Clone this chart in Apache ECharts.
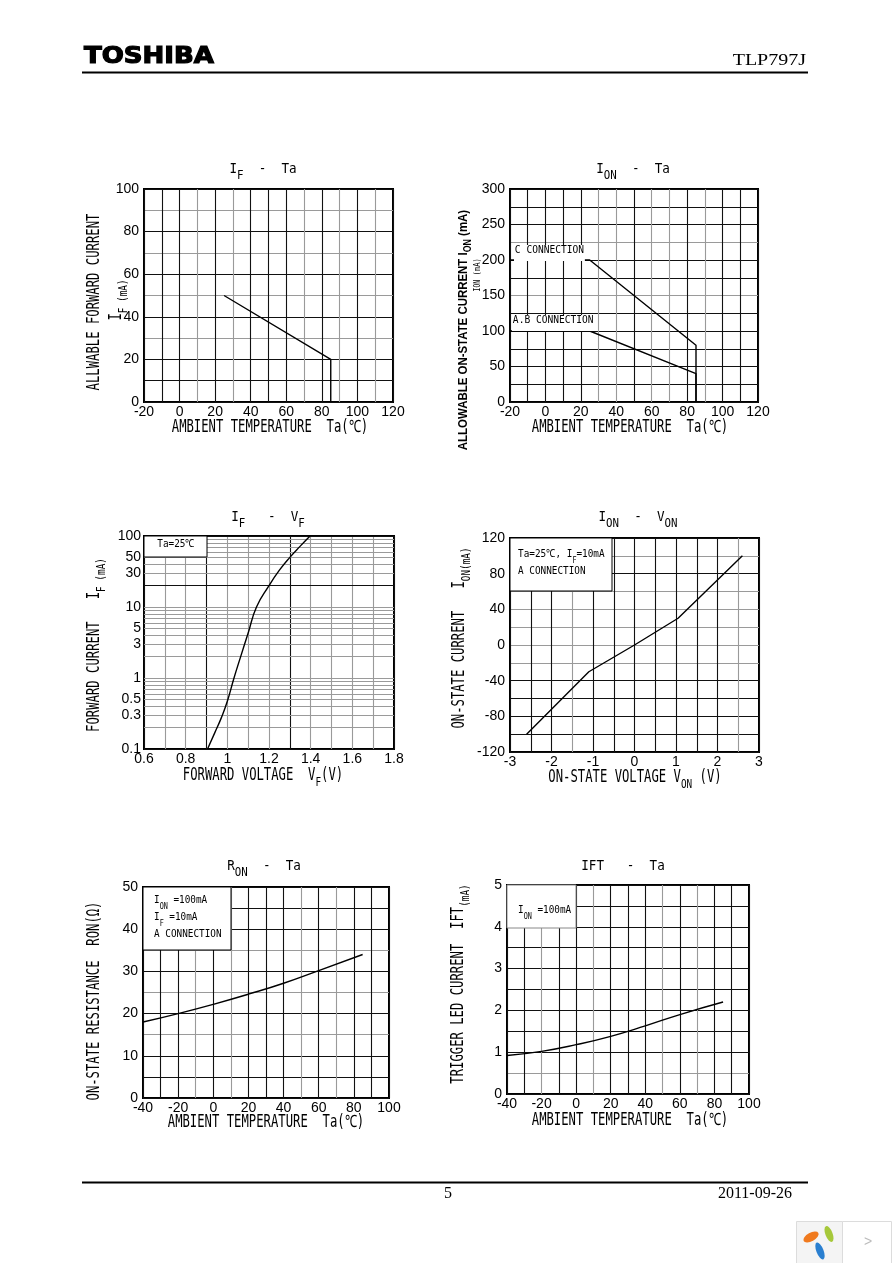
<!DOCTYPE html>
<html><head><meta charset="utf-8">
<script src="https://cdn.jsdelivr.net/npm/echarts@6/dist/echarts.min.js"></script>
<style>html,body{margin:0;padding:0;background:#fff}#c{width:892px;height:1263px}</style>
</head><body><div id="c"></div>
<script>
// ---------- DATA ----------
// 1) IF - Ta
const ifTaTemp = [25, 85, 85];
const ifTaCurrent = [50, 20, 0];
// 2) ION - Ta
const ionTaTemp = [-20, 25, 85, 85];
const ionTaC = [200, 200, 80, 0];
const ionTaAB = [100, 100, 40, 0];
// 3) IF - VF (log axis)
const ifVfVolt = [0.905, 0.94, 0.97, 1.0, 1.032, 1.064, 1.10, 1.14, 1.2, 1.25, 1.3, 1.35, 1.397];
const ifVfCurrent = [0.1, 0.17, 0.27, 0.47, 1.0, 2.0, 4.3, 10, 20, 33, 50, 72, 100];
const ifVfGridValues = [0.1,0.2,0.3,0.4,0.5,0.6,0.7,0.8,0.9,1,2,3,4,5,6,7,8,9,10,20,30,40,50,60,70,80,90,100];
const ifVfTickLabels = [0.1,0.3,0.5,1,3,5,10,30,50,100];
// 4) ION - VON
const ionVonVolt = [-2.6, -1.1, 0, 1.05, 2.6];
const ionVonCurrent = [-100, -30, 0, 30, 100];
// 5) RON - Ta
const ronTemp = [-40, -20, 0, 20, 40, 60, 85];
const ronValue = [18, 20, 22.2, 24.6, 27.2, 30.2, 34];
// 6) IFT - Ta
const iftTemp = [-40, -20, 0, 20, 40, 60, 85];
const iftValue = [0.92, 1.02, 1.18, 1.38, 1.63, 1.9, 2.2];

// ---------- STYLE ----------
const B = '#111', G = '#9a9a9a';
const MONO = "'DejaVu Sans Mono','Liberation Mono',monospace";
const SANS = "'Liberation Sans',Arial,sans-serif";
const zip = (a, b) => a.map((v, i) => [v, b[i]]);
const isMult = (v, s) => Math.abs(v / s - Math.round(v / s)) < 1e-6;

const gridsPx = [
  {left: 144, top: 189, width: 249, height: 213},
  {left: 510, top: 189, width: 248, height: 213},
  {left: 144, top: 536, width: 250, height: 213},
  {left: 510, top: 538, width: 249, height: 214},
  {left: 143, top: 887, width: 246, height: 211},
  {left: 507, top: 885, width: 242, height: 209}
];

function valAxis(idx, min, max, interval, labelEvery, colors, fmt, isY) {
  return {
    type: 'value', gridIndex: idx, min, max, interval,
    axisLine: {show: false}, axisTick: {show: false},
    axisLabel: {
      show: true, color: '#000', fontFamily: SANS, fontSize: 14, margin: isY ? 5 : 3,
      formatter: v => isMult(v, labelEvery) ? (fmt ? fmt(v) : String(Math.round(v * 100) / 100)) : ''
    },
    splitLine: {show: true, lineStyle: {color: colors, width: 1.1}}
  };
}

const xAxes = [
  valAxis(0, -20, 120, 10, 20, [B,B,B,G,B,G,B,B,B,G,B,G,B,G,B]),
  valAxis(1, -20, 120, 10, 20, [B,B,B,B,B,G,G,B,G,G,B,G,B,B,B]),
  valAxis(2, 0.6, 1.8, 0.1, 0.2, [B,G,G,B,G,G,G,B,G,G,G,G,B], v => { const r = Math.round(v * 10) / 10; return r === 1 ? '1' : r.toFixed(1); }),
  valAxis(3, -3, 3, 0.5, 1, [B,B,B,G,B,B,B,B,B,B,B,G,B], v => String(Math.round(v))),
  valAxis(4, -40, 100, 10, 20, [B,B,B,G,B,G,B,B,B,G,B,G,B,B,B]),
  valAxis(5, -40, 100, 10, 20, [B,B,G,B,B,G,B,B,B,G,B,G,B,B,B])
];
const yAxes = [
  valAxis(0, 0, 100, 10, 20, [B,B,B,G,B,G,B,G,B,G,B], null, true),
  valAxis(1, 0, 300, 25, 50, [B,B,B,B,B,B,G,B,B,G,B,B,B], null, true),
  {type: 'log', logBase: 10, gridIndex: 2, min: 0.1, max: 100,
   axisLine: {show: false}, axisTick: {show: false}, axisLabel: {show: false}, splitLine: {show: false}},
  valAxis(3, -120, 120, 20, 40, [B,B,B,B,B,G,G,G,G,G,B,G,B], null, true),
  valAxis(4, 0, 50, 5, 10, [B,B,B,G,B,G,B,G,B,B,B], null, true),
  valAxis(5, 0, 5, 0.5, 1, [B,G,B,B,B,B,B,B,B,B,B], v => String(Math.round(v)), true)
];

const lineStyle = {color: '#000', width: 1.4};
function line(idx, data, smooth) {
  return {type: 'line', xAxisIndex: idx, yAxisIndex: idx, data, smooth: !!smooth,
    showSymbol: false, symbol: 'none', lineStyle, z: 5, animation: false};
}

const series = [
  line(0, zip(ifTaTemp, ifTaCurrent)),
  line(1, zip(ionTaTemp, ionTaC)),
  line(1, zip(ionTaTemp, ionTaAB)),
  Object.assign(line(2, zip(ifVfVolt, ifVfCurrent), 0.3), {
    markLine: {
      silent: true, symbol: ['none', 'none'], animation: false,
      data: ifVfGridValues.map(v => ({
        yAxis: v,
        lineStyle: {color: (v === 20 || v === 0.1 || v === 100) ? B : G, width: 1.1, type: 'solid'},
        label: {show: ifVfTickLabels.includes(v), position: 'start', distance: 3,
          formatter: String(v), color: '#000', fontFamily: SANS, fontSize: 14}
      }))
    }
  }),
  line(3, zip(ionVonVolt, ionVonCurrent)),
  line(4, zip(ronTemp, ronValue), 0.4),
  line(5, zip(iftTemp, iftValue), 0.4)
];

// ---------- TEXT / ANNOTATIONS ----------
const richAxis = {
  a: {fontFamily: MONO, fontSize: 17, lineHeight: 22, verticalAlign: 'top', fill: '#000'},
  s: {fontFamily: MONO, fontSize: 13, lineHeight: 14, verticalAlign: 'bottom', fill: '#000'},
  m: {fontFamily: MONO, fontSize: 13, lineHeight: 18, verticalAlign: 'bottom', fill: '#000'}
};
const richTitle = {
  a: {fontFamily: MONO, fontSize: 14, lineHeight: 20, verticalAlign: 'top', fill: '#000'},
  s: {fontFamily: MONO, fontSize: 12, lineHeight: 13, verticalAlign: 'bottom', fill: '#000'}
};
const richBox = {
  a: {fontFamily: MONO, fontSize: 11, lineHeight: 16, verticalAlign: 'top', fill: '#000'},
  s: {fontFamily: MONO, fontSize: 8, lineHeight: 12, verticalAlign: 'bottom', fill: '#000'}
};

function T(x, y, text, rich, opt) {
  opt = opt || {};
  return {type: 'text', x, y, z: 100, rotation: opt.rot ? Math.PI / 2 : 0,
    scaleX: opt.sx || 1, scaleY: opt.sy || 1,
    style: Object.assign({text, rich, align: opt.align || 'center', verticalAlign: 'middle'}, opt.style || {})};
}
function box(x, y, w, h, stroke) {
  return {type: 'rect', z: 90, shape: {x, y, width: w, height: h},
    style: {fill: '#fff', stroke: stroke || '#000', lineWidth: 1}};
}

const graphics = [
  // header
  {type: 'text', x: 84, y: 57, z: 100, scaleX: 1.13,
   style: {text: 'TOSHIBA', fontFamily: "'DejaVu Sans',sans-serif", fontWeight: 'bold', fontSize: 23, fill: '#000',
           stroke: '#000', lineWidth: 1.2, align: 'left', verticalAlign: 'middle'}},
  {type: 'text', x: 806, y: 61, z: 100, scaleX: 1.25,
   style: {text: 'TLP797J', fontFamily: "'Liberation Serif',serif", fontSize: 16, fill: '#000', align: 'right', verticalAlign: 'middle'}},
  {type: 'line', z: 100, shape: {x1: 82, y1: 72.5, x2: 808, y2: 72.5}, style: {stroke: '#000', lineWidth: 2}},
  // footer
  {type: 'line', z: 100, shape: {x1: 82, y1: 1182.5, x2: 808, y2: 1182.5}, style: {stroke: '#000', lineWidth: 2}},
  {type: 'text', x: 448, y: 1194, z: 100,
   style: {text: '5', fontFamily: "'Liberation Serif',serif", fontSize: 16, fill: '#000', align: 'center', verticalAlign: 'middle'}},
  {type: 'text', x: 792, y: 1194, z: 100,
   style: {text: '2011-09-26', fontFamily: "'Liberation Serif',serif", fontSize: 16, fill: '#000', align: 'right', verticalAlign: 'middle'}},
  // widget in corner
  {type: 'rect', z: 100, shape: {x: 796.5, y: 1221.5, width: 46, height: 42}, style: {fill: '#f4f4f4', stroke: '#dcdcdc', lineWidth: 1}},
  {type: 'rect', z: 100, shape: {x: 842.5, y: 1221.5, width: 49, height: 42}, style: {fill: '#fff', stroke: '#dcdcdc', lineWidth: 1}},
  {type: 'text', x: 868, y: 1242, z: 101, style: {text: '>', fontFamily: SANS, fontSize: 14, fill: '#bbb', align: 'center', verticalAlign: 'middle'}},
  {type: 'circle', z: 101, x: 811, y: 1237, rotation: 0.5, scaleX: 1.4, scaleY: 0.7, shape: {cx: 0, cy: 0, r: 6}, style: {fill: '#f07a1e'}},
  {type: 'circle', z: 101, x: 829, y: 1234, rotation: -1.2, scaleX: 1.4, scaleY: 0.6, shape: {cx: 0, cy: 0, r: 6}, style: {fill: '#a6c83a'}},
  {type: 'circle', z: 101, x: 820, y: 1251, rotation: -1.2, scaleX: 1.5, scaleY: 0.6, shape: {cx: 0, cy: 0, r: 6}, style: {fill: '#2a7fd0'}},

  // chart titles
  T(263, 172, '{a|I}{s|F}{a|  -  Ta}', richTitle, {sx: 0.9}),
  T(633, 172, '{a|I}{s|ON}{a|  -  Ta}', richTitle, {sx: 0.9}),
  T(268, 520, '{a|I}{s|F}{a|   -  V}{s|F}', richTitle, {sx: 0.9}),
  T(638, 520, '{a|I}{s|ON}{a|  -  V}{s|ON}', richTitle, {sx: 0.9}),
  T(264, 869, '{a|R}{s|ON}{a|  -  Ta}', richTitle, {sx: 0.9}),
  T(623, 869, '{a|IFT   -  Ta}', richTitle, {sx: 0.9}),

  // x axis titles
  T(270, 430, '{a|AMBIENT TEMPERATURE  Ta(℃)}', richAxis, {sx: 0.72}),
  T(630, 430, '{a|AMBIENT TEMPERATURE  Ta(℃)}', richAxis, {sx: 0.72}),
  T(263, 778, '{a|FORWARD VOLTAGE  V}{s|F}{a|(V)}', richAxis, {sx: 0.72}),
  T(635, 780, '{a|ON-STATE VOLTAGE V}{m|ON}{a| (V)}', richAxis, {sx: 0.72}),
  T(266, 1125, '{a|AMBIENT TEMPERATURE  Ta(℃)}', richAxis, {sx: 0.72}),
  T(630, 1123, '{a|AMBIENT TEMPERATURE  Ta(℃)}', richAxis, {sx: 0.72}),

  // y axis titles
  T(97, 302, '{a|ALLWABLE FORWARD CURRENT}', richAxis, {rot: true, sx: 0.72}),
  T(119, 300, '{a|I}{s|F}{m| (mA)}', richAxis, {rot: true, sx: 0.72}),
  T(465, 330, '{b|ALLOWABLE ON-STATE CURRENT I}{bs|ON}{b| (mA)}', {
      b: {fontFamily: SANS, fontWeight: 'bold', fontSize: 13, lineHeight: 16, verticalAlign: 'top', fill: '#000'},
      bs: {fontFamily: SANS, fontWeight: 'bold', fontSize: 10, lineHeight: 12, verticalAlign: 'bottom', fill: '#000'}
    }, {rot: true, sx: 0.88}),
  T(478, 275, '{a|I}{s|ON}{a| (mA)}', {
      a: {fontFamily: MONO, fontSize: 9, lineHeight: 11, fill: '#000'},
      s: {fontFamily: MONO, fontSize: 8, lineHeight: 11, fill: '#000'}
    }, {rot: true, sx: 0.8}),
  T(97, 645, '{a|FORWARD CURRENT   I}{s|F}{m| (mA)}', richAxis, {rot: true, sx: 0.72}),
  T(462, 638, '{a|ON-STATE CURRENT   I}{m|ON(mA)}', richAxis, {rot: true, sx: 0.72}),
  T(97, 1001, '{a|ON-STATE RESISTANCE  RON(Ω)}', richAxis, {rot: true, sx: 0.72}),
  T(461, 984, '{a|TRIGGER LED CURRENT  IFT}{m|(mA)}', richAxis, {rot: true, sx: 0.72}),

  // annotation boxes
  box(144, 536, 63, 21),
  T(176, 547, '{a|Ta=25℃}', richBox, {sx: 0.85}),
  box(510, 538, 102, 53),
  T(518, 557, '{a|Ta=25℃, I}{s|F}{a|=10mA}', richBox, {align: 'left', sx: 0.85}),
  T(518, 574, '{a|A CONNECTION}', richBox, {align: 'left', sx: 0.85}),
  box(143, 887, 88, 63),
  T(154, 903, '{a|I}{s|ON}{a| =100mA}', richBox, {align: 'left', sx: 0.85}),
  T(154, 920, '{a|I}{s|F}{a| =10mA}', richBox, {align: 'left', sx: 0.85}),
  T(154, 937, '{a|A CONNECTION}', richBox, {align: 'left', sx: 0.85}),
  box(507, 885, 69, 43, '#888'),
  T(518, 913, '{a|I}{s|ON}{a| =100mA}', richBox, {align: 'left', sx: 0.85}),
  // line labels in chart 2
  T(514, 253, '{a|C CONNECTION}', richBox, {align: 'left', sx: 0.87, style: {backgroundColor: '#fff', padding: [0, 1]}}),
  T(512, 323, '{a|A.B CONNECTION}', richBox, {align: 'left', sx: 0.87, style: {backgroundColor: '#fff', padding: [0, 1]}})
];

const chart = echarts.init(document.getElementById('c'), null, {renderer: 'canvas'});
chart.setOption({
  backgroundColor: '#fff',
  animation: false,
  grid: gridsPx.map(g => Object.assign({show: true, borderColor: '#000', borderWidth: 2, backgroundColor: 'transparent'}, g)),
  xAxis: xAxes,
  yAxis: yAxes,
  series,
  graphic: graphics
});
</script></body></html>
